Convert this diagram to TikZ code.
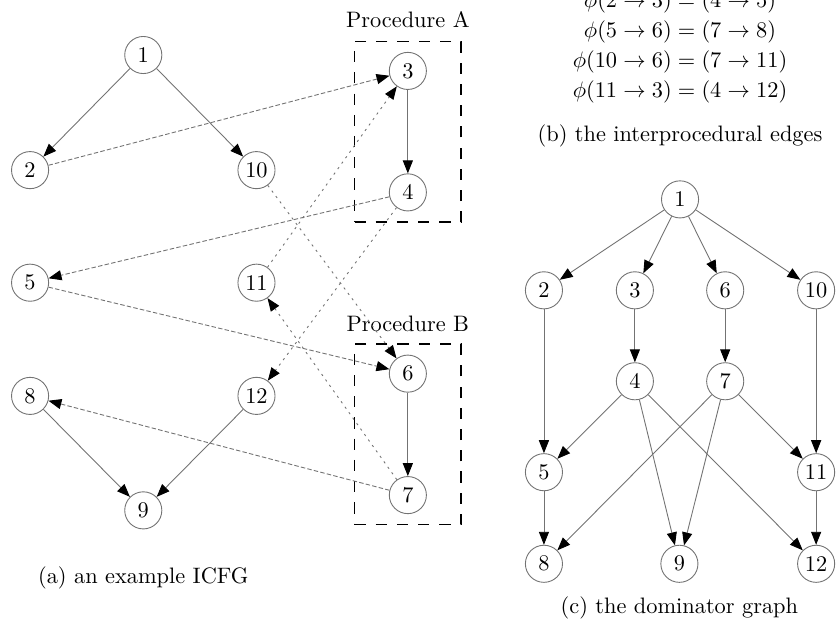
\documentclass[tikz,border=0pt]{standalone}
\usepackage{amsmath}
\usepackage{tikz}
\usetikzlibrary{positioning,fit,arrows.meta}

\begin{document}
\begin{tikzpicture}[
  statenode/.style={circle, draw=black!55, inner sep=0pt, minimum size=16.6pt, on grid},
  procbox/.style={rectangle, draw=black, line width=0.8pt, dash pattern=on 5pt off 4.5pt, inner xsep=0.54cm, inner ysep=0.165cm},
  procnode/.style={rectangle, inner sep=3.33pt},
  captionnode/.style={rectangle, on grid},
  flowedge/.style={draw=black!55, -{Triangle[length=5.8pt, width=4.5pt, color=black]}},
  calledge/.style={flowedge, dash pattern=on 2pt off 1pt},
  crossedge/.style={flowedge, dash pattern=on 1pt off 2pt}
  ]
  % Margins
  \useasboundingbox (-2.253,0.865) rectangle (10.908,-8.963);

  % ICFG nodes
  \node[statenode]  (a1)                                         {1};
  \node[statenode]  (a2)    [below left=1.81cm and 1.78cm of a1]  {2};
  \node[statenode]  (a10)   [below right=1.81cm and 1.78cm of a1] {10};
  \node[statenode]  (a5)    [below=1.77cm of a2]                  {5};
  \node[statenode]  (a8)    [below=1.78cm of a5]                  {8};
  \node[statenode]  (a11)   [below=1.77cm of a10]                 {11};
  \node[statenode]  (a12)   [below=1.78cm of a11]                 {12};
  \node[statenode]  (a9)    [below right=1.80cm and 1.78cm of a8] {9};
  \node[statenode]  (a3)    [above right=1.56cm and 2.38cm of a10] {3};
  \node[statenode]  (a4)    [below=1.91cm of a3]                  {4};
  \node[statenode]  (a6)    [below=2.85cm of a4]                  {6};
  \node[statenode]  (a7)    [below=1.91cm of a6]                  {7};

  % Procedures
  \node[procbox, fit=(a3) (a4)]  (procA)  {};
  \node[procbox, fit=(a6) (a7)]  (procB)  {};
  \node[procnode]   (procAlabel)  [above=0.8mm of procA]  {Procedure A};
  \node[procnode]   (procBlabel)  [above=0.6mm of procB]  {Procedure B};

  % ICFG edges
  \draw[flowedge]  (a1) -- (a2);
  \draw[flowedge]  (a1) -- (a10);
  \draw[flowedge]  (a3) -- (a4);
  \draw[flowedge]  (a6) -- (a7);
  \draw[flowedge]  (a8) -- (a9);
  \draw[flowedge]  (a12) -- (a9);
  \draw[calledge]  (a2) -- (a3);
  \draw[calledge]  (a4) -- (a5);
  \draw[calledge]  (a5) -- (a6);
  \draw[calledge]  (a7) -- (a8);
  \draw[crossedge] (a10) -- (a6);
  \draw[crossedge] (a7) -- (a11);
  \draw[crossedge] (a11) -- (a3);
  \draw[crossedge] (a4) -- (a12);

  % Dominator graph nodes
  \node[statenode]  (b1)    [below right=2.27cm and 8.44cm of a1] {1};
  \node[statenode]  (b2)    [below left=1.43cm and 2.14cm of b1]  {2};
  \node[statenode]  (b3)    [below left=1.43cm and 0.71cm of b1]  {3};
  \node[statenode]  (b6)    [below right=1.43cm and 0.71cm of b1] {6};
  \node[statenode]  (b10)   [below right=1.43cm and 2.14cm of b1] {10};
  \node[statenode]  (b4)    [below=1.43cm of b3]                  {4};
  \node[statenode]  (b7)    [below=1.43cm of b6]                  {7};
  \node[statenode]  (b5)    [below=2.86cm of b2]                  {5};
  \node[statenode]  (b11)   [below=2.86cm of b10]                 {11};
  \node[statenode]  (b8)    [below=1.44cm of b5]                  {8};
  \node[statenode]  (b12)   [below=1.44cm of b11]                 {12};
  \node[statenode]  (b9)    [right=2.13cm of b8]                  {9};

  % Dominator graph edges
  \draw[flowedge]  (b1) -- (b2);
  \draw[flowedge]  (b1) -- (b3);
  \draw[flowedge]  (b1) -- (b6);
  \draw[flowedge]  (b1) -- (b10);
  \draw[flowedge]  (b2) -- (b5);
  \draw[flowedge]  (b3) -- (b4);
  \draw[flowedge]  (b6) -- (b7);
  \draw[flowedge]  (b10) -- (b11);
  \draw[flowedge]  (b4) -- (b5);
  \draw[flowedge]  (b4) -- (b9);
  \draw[flowedge]  (b4) -- (b12);
  \draw[flowedge]  (b7) -- (b8);
  \draw[flowedge]  (b7) -- (b9);
  \draw[flowedge]  (b7) -- (b11);
  \draw[flowedge]  (b5) -- (b8);
  \draw[flowedge]  (b11) -- (b12);

  % Captions
  \node[captionnode]  (capA)  [below=1.06cm of a9]   {(a) an example ICFG};
  \node[captionnode]  (capC)  [below=0.70cm of b9]   {(c) the dominator graph};
  \node[captionnode]  (capB)  [above=1.0cm of b1]    {(b) the interprocedural edges};
  \node[captionnode, align=center]  (phimap)  [above=1.40cm of capB]
    {$\phi(2 \rightarrow 3) = (4 \rightarrow 5)$\\[1.4pt]
     $\phi(5 \rightarrow 6) = (7 \rightarrow 8)$\\[1.4pt]
     $\phi(10 \rightarrow 6) = (7 \rightarrow 11)$\\[1.4pt]
     $\phi(11 \rightarrow 3) = (4 \rightarrow 12)$};

\end{tikzpicture}
\end{document}
